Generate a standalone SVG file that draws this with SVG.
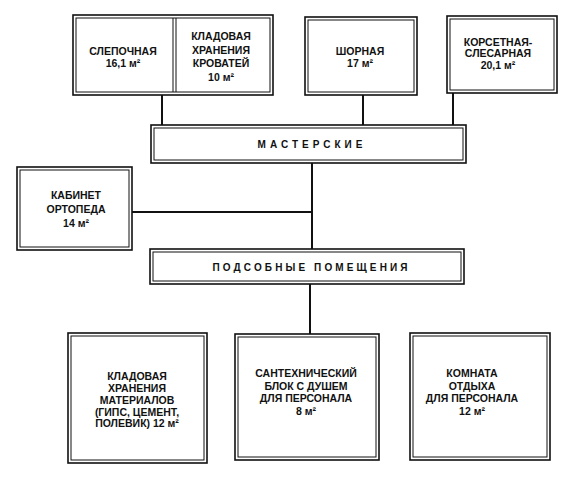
<svg xmlns="http://www.w3.org/2000/svg" width="577" height="483" viewBox="0 0 577 483">
<style>
.wo{fill:#fff;stroke:#111;stroke-width:1.6}
.wi{fill:none;stroke:#111;stroke-width:1}
.c{fill:none;stroke:#111;stroke-width:2}
text{font-family:"Liberation Sans",Arial,sans-serif;font-size:10.5px;font-weight:bold;fill:#111;text-anchor:middle}
.bar{font-size:10px}
</style>
<rect width="577" height="483" fill="#fff"/>
<g id="connectors">
<line class="c" x1="162" y1="95" x2="162" y2="125"/>
<line class="c" x1="363" y1="95" x2="363" y2="125"/>
<line class="c" x1="453" y1="93" x2="453" y2="125"/>
<line class="c" x1="312" y1="163" x2="312" y2="249"/>
<line class="c" x1="132" y1="212" x2="312" y2="212"/>
<line class="c" x1="310" y1="284" x2="310" y2="334"/>
</g>
<g id="slepochnaya-kladovaya">
<rect class="wo" x="73" y="15" width="200" height="80"/>
<rect class="wi" x="76" y="18" width="194" height="74"/>
<line class="wi" x1="173" y1="18" x2="173" y2="92"/>
<line class="wi" x1="176" y1="18" x2="176" y2="92"/>
<text x="123" y="55">СЛЕПОЧНАЯ</text>
<text x="123" y="67">16,1 м²</text>
<text x="221" y="40">КЛАДОВАЯ</text>
<text x="221" y="54">ХРАНЕНИЯ</text>
<text x="221" y="67">КРОВАТЕЙ</text>
<text x="221" y="81">10 м²</text>
</g>
<g id="shornaya">
<rect class="wo" x="305" y="17" width="112" height="78"/>
<rect class="wi" x="308" y="20" width="106" height="72"/>
<text x="360" y="55">ШОРНАЯ</text>
<text x="360" y="67">17 м²</text>
</g>
<g id="korsetnaya">
<rect class="wo" x="447" y="16" width="110" height="77"/>
<rect class="wi" x="450" y="19" width="104" height="71"/>
<text x="498" y="46">КОРСЕТНАЯ-</text>
<text x="498" y="57">СЛЕСАРНАЯ</text>
<text x="498" y="69">20,1 м²</text>
</g>
<g id="masterskie">
<rect class="wo" x="151" y="125" width="315" height="38"/>
<rect class="wi" x="154" y="128" width="309" height="32"/>
<text class="bar" x="310" y="148" textLength="105" lengthAdjust="spacing">МАСТЕРСКИЕ</text>
</g>
<g id="kabinet">
<rect class="wo" x="17" y="167" width="115" height="83"/>
<rect class="wi" x="20" y="170" width="109" height="77"/>
<text x="76" y="199">КАБИНЕТ</text>
<text x="76" y="213">ОРТОПЕДА</text>
<text x="76" y="227">14 м²</text>
</g>
<g id="podsobnye">
<rect class="wo" x="150" y="249" width="314" height="35"/>
<rect class="wi" x="153" y="252" width="308" height="29"/>
<text class="bar" x="310" y="271" textLength="195" lengthAdjust="spacing">ПОДСОБНЫЕ ПОМЕЩЕНИЯ</text>
</g>
<g id="kladovaya-materialov">
<rect class="wo" x="68" y="333" width="139" height="130"/>
<rect class="wi" x="71" y="336" width="133" height="124"/>
<text x="137" y="380">КЛАДОВАЯ</text>
<text x="137" y="392">ХРАНЕНИЯ</text>
<text x="137" y="404">МАТЕРИАЛОВ</text>
<text x="137" y="416">(ГИПС, ЦЕМЕНТ,</text>
<text x="137" y="427">ПОЛЕВИК) 12 м²</text>
</g>
<g id="santehnicheskiy">
<rect class="wo" x="235" y="334" width="144" height="126"/>
<rect class="wi" x="238" y="337" width="138" height="120"/>
<text x="306" y="377">САНТЕХНИЧЕСКИЙ</text>
<text x="306" y="390">БЛОК С ДУШЕМ</text>
<text x="306" y="402">ДЛЯ ПЕРСОНАЛА</text>
<text x="306" y="415">8 м²</text>
</g>
<g id="komnata-otdyha">
<rect class="wo" x="410" y="333" width="140" height="127"/>
<rect class="wi" x="413" y="336" width="134" height="121"/>
<text x="472" y="377">КОМНАТА</text>
<text x="472" y="390">ОТДЫХА</text>
<text x="472" y="402">ДЛЯ ПЕРСОНАЛА</text>
<text x="472" y="415">12 м²</text>
</g>
</svg>
